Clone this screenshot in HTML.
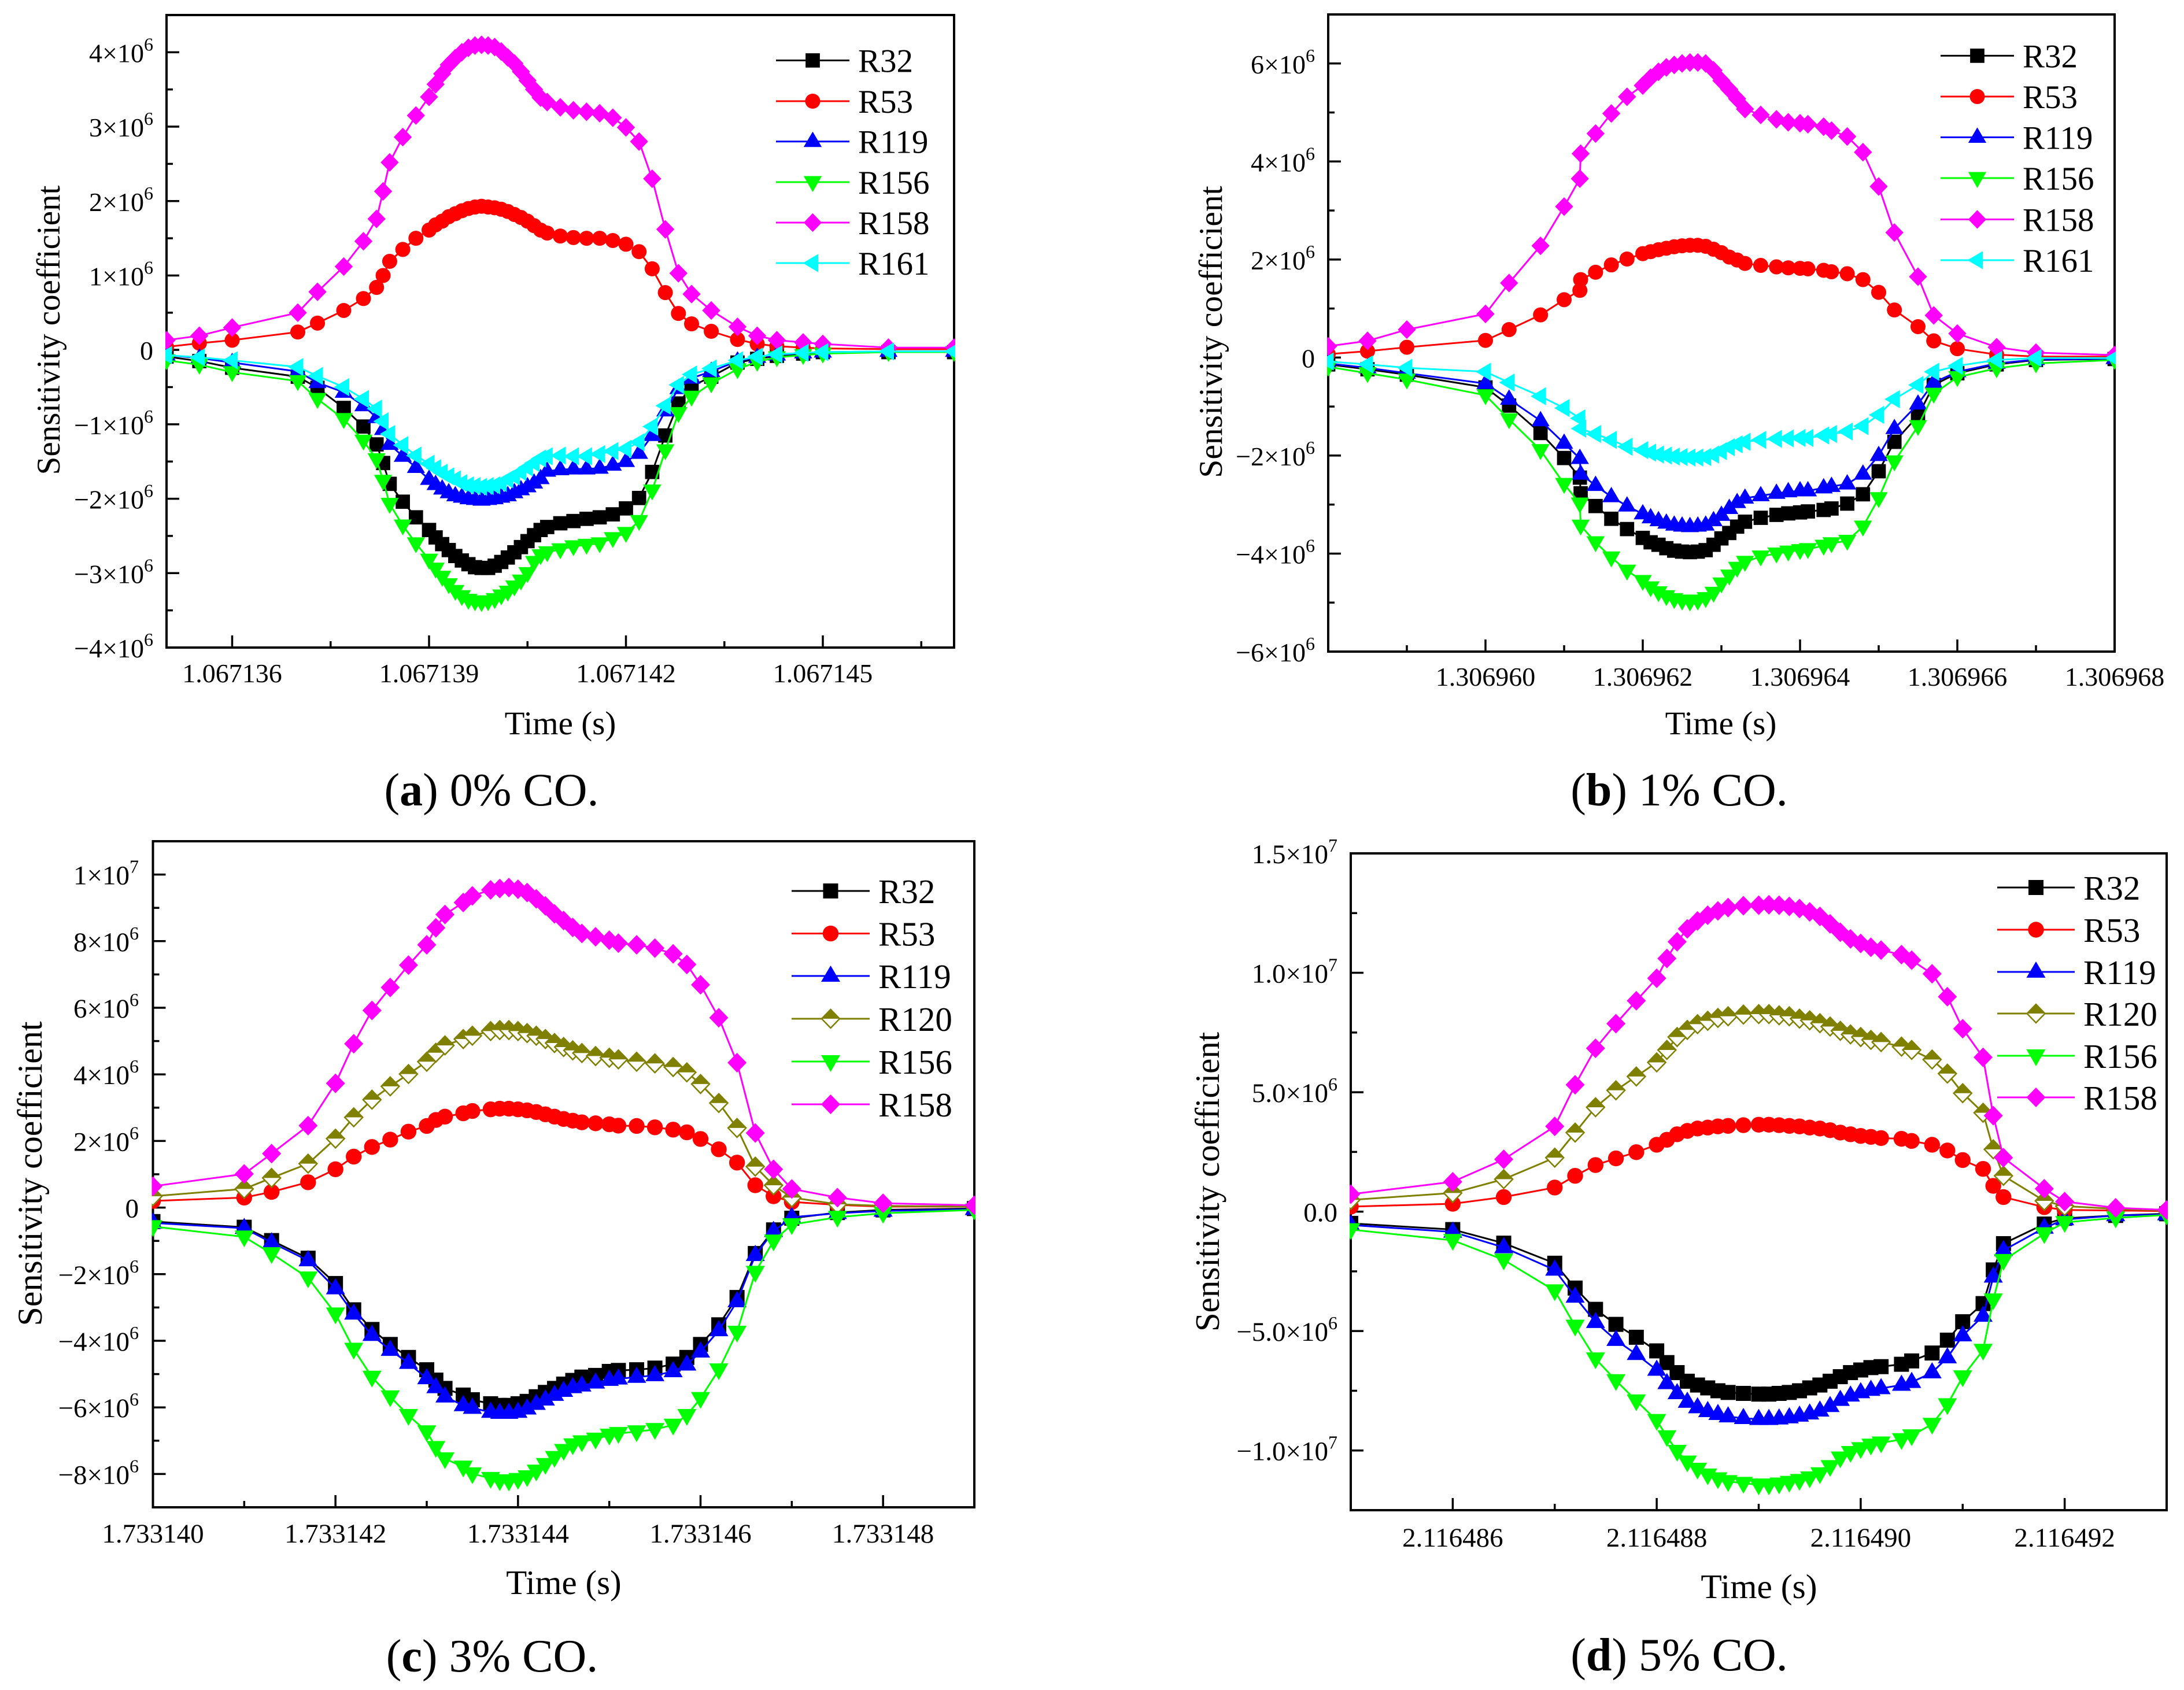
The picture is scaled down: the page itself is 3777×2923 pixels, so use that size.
<!DOCTYPE html>
<html>
<head>
<meta charset="utf-8">
<title>Sensitivity coefficients at 0%, 1%, 3% and 5% CO</title>
<style>
html,body{margin:0;padding:0;background:#fff;}
svg{display:block;}
text{font-family:"Liberation Serif","Times New Roman",serif;fill:#000;}
</style>
</head>
<body>
<svg id="figure" xmlns="http://www.w3.org/2000/svg" width="3777" height="2923" viewBox="0 0 3777 2923">
  <rect x="0" y="0" width="3777" height="2923" fill="#fff"/>

  <text x="969" y="1270" font-size="57" text-anchor="middle">Time (s)</text>
  <text x="2976" y="1270" font-size="57" text-anchor="middle">Time (s)</text>
  <text x="975" y="2757" font-size="59" text-anchor="middle">Time (s)</text>
  <text x="3042" y="2764" font-size="59.5" text-anchor="middle">Time (s)</text>

  <text transform="translate(103 571) rotate(-90)" font-size="57" text-anchor="middle">Sensitivity coefficient</text>
  <text transform="translate(2113 574) rotate(-90)" font-size="57.5" text-anchor="middle">Sensitivity coefficient</text>
  <text transform="translate(72 2030) rotate(-90)" font-size="60" text-anchor="middle">Sensitivity coefficient</text>
  <text transform="translate(2108 2044) rotate(-90)" font-size="59" text-anchor="middle">Sensitivity coefficient</text>

  <text x="850" y="1393" font-size="80" text-anchor="middle">(<tspan font-weight="bold">a</tspan>) 0% CO.</text>
  <text x="2904" y="1393" font-size="80" text-anchor="middle">(<tspan font-weight="bold">b</tspan>) 1% CO.</text>
  <text x="851" y="2891" font-size="80" text-anchor="middle">(<tspan font-weight="bold">c</tspan>) 3% CO.</text>
  <text x="2904" y="2889" font-size="80" text-anchor="middle">(<tspan font-weight="bold">d</tspan>) 5% CO.</text>
</svg>

<script>
// ---------- Panel A (0% CO) — time = 1.06713 + t*1e-6 s, values in 1e6 ----------
const timesA = [5,5.5,6,7,7.3,7.7,8,8.2,8.3,8.4,8.6,8.8,9,9.1,9.2,9.3,9.4,9.5,9.6,9.7,9.8,9.9,10,10.1,10.2,10.3,10.4,10.5,10.6,10.7,10.8,11,11.2,11.4,11.6,11.8,12,12.2,12.4,12.6,12.8,13,13.3,13.7,14,14.3,14.7,15,16,17];
const r32A = [-.09,-.15,-.24,-.36,-.51,-.78,-1.03,-1.27,-1.52,-1.80,-2.04,-2.25,-2.42,-2.52,-2.61,-2.69,-2.77,-2.83,-2.88,-2.92,-2.93,-2.93,-2.90,-2.85,-2.79,-2.72,-2.65,-2.57,-2.49,-2.42,-2.38,-2.33,-2.30,-2.27,-2.25,-2.21,-2.13,-1.99,-1.64,-1.15,-.72,-.49,-.36,-.17,-.12,-.08,-.05,-.03,-.03,-.03];
const r53A = [.04,.09,.13,.24,.36,.53,.69,.84,1.0,1.19,1.35,1.50,1.61,1.68,1.73,1.79,1.83,1.87,1.90,1.92,1.93,1.92,1.91,1.89,1.86,1.82,1.78,1.73,1.67,1.61,1.57,1.53,1.51,1.50,1.50,1.47,1.42,1.32,1.09,.77,.49,.35,.25,.14,.08,.05,.03,.02,.01,.01];
const r119A = [-.07,-.11,-.17,-.29,-.44,-.57,-.75,-.91,-1.07,-1.27,-1.43,-1.58,-1.74,-1.81,-1.87,-1.92,-1.96,-1.98,-2.0,-2.01,-2.02,-2.01,-2.0,-1.98,-1.96,-1.92,-1.88,-1.84,-1.79,-1.73,-1.63,-1.61,-1.6,-1.6,-1.59,-1.55,-1.5,-1.39,-1.15,-.82,-.52,-.38,-.29,-.15,-.1,-.07,-.04,-.03,-.02,-.02];
const r156A = [-.14,-.2,-.3,-.42,-.66,-.93,-1.22,-1.47,-1.76,-2.07,-2.36,-2.6,-2.82,-2.94,-3.05,-3.15,-3.24,-3.31,-3.36,-3.38,-3.39,-3.38,-3.35,-3.30,-3.25,-3.18,-3.10,-3.0,-2.85,-2.76,-2.72,-2.68,-2.64,-2.62,-2.6,-2.53,-2.46,-2.30,-1.89,-1.35,-.85,-.63,-.45,-.26,-.16,-.1,-.07,-.05,-.03,-.03];
const r158A = [.13,.19,.30,.50,.78,1.12,1.46,1.76,2.13,2.52,2.86,3.15,3.40,3.57,3.71,3.83,3.92,4.00,4.06,4.09,4.10,4.09,4.07,4.01,3.93,3.85,3.74,3.62,3.50,3.39,3.33,3.26,3.22,3.20,3.18,3.12,2.99,2.80,2.30,1.62,1.03,.75,.53,.31,.19,.13,.10,.08,.03,.03];
const r161A = [-.07,-.1,-.14,-.23,-.35,-.5,-.66,-.79,-.96,-1.13,-1.28,-1.42,-1.53,-1.59,-1.65,-1.70,-1.74,-1.79,-1.82,-1.83,-1.84,-1.83,-1.82,-1.79,-1.74,-1.70,-1.64,-1.58,-1.52,-1.46,-1.43,-1.42,-1.43,-1.43,-1.40,-1.36,-1.33,-1.24,-1.03,-.75,-.47,-.33,-.25,-.14,-.09,-.06,-.04,-.03,-.02,-.02];
const xTicksA = [6,9,12,15];
const xTickLabelsA = ["1.067136","1.067139","1.067142","1.067145"];
const xMinorA = [7.5,10.5,13.5,16.5];
const yTicksA = [-4,-3,-2,-1,0,1,2,3,4];
const yTickLabelsA = ["−4×10^6","−3×10^6","−2×10^6","−1×10^6","0","1×10^6","2×10^6","3×10^6","4×10^6"];
const yMinorA = [-3.5,-2.5,-1.5,-.5,.5,1.5,2.5,3.5];

// ---------- Panel B (1% CO) — time = 1.3069 + t*1e-6 s, values in 1e6 ----------
const timesB = [58,58.5,59,60,60.3,60.7,61,61.2,61.21,61.4,61.6,61.8,62,62.1,62.2,62.3,62.4,62.5,62.6,62.7,62.8,62.9,63,63.1,63.2,63.3,63.5,63.7,63.85,64,64.1,64.3,64.4,64.6,64.8,65,65.2,65.5,65.7,66,66.5,67,68];
const r32B = [-.14,-.24,-.35,-.61,-.98,-1.54,-2.05,-2.45,-2.77,-3.03,-3.29,-3.5,-3.68,-3.77,-3.82,-3.89,-3.94,-3.96,-3.97,-3.96,-3.93,-3.82,-3.69,-3.58,-3.45,-3.35,-3.27,-3.21,-3.18,-3.16,-3.14,-3.11,-3.08,-2.98,-2.79,-2.32,-1.72,-1.19,-.56,-.32,-.14,-.05,-.03];
const r53B = [.07,.13,.21,.35,.57,.87,1.18,1.37,1.59,1.74,1.89,2.01,2.12,2.16,2.2,2.23,2.26,2.28,2.29,2.29,2.27,2.21,2.14,2.05,1.99,1.92,1.88,1.85,1.83,1.82,1.81,1.78,1.75,1.71,1.59,1.33,.97,.63,.34,.18,.06,.02,.02];
const r119B = [-.12,-.21,-.32,-.53,-.85,-1.29,-1.75,-2.06,-2.38,-2.61,-2.84,-3.03,-3.19,-3.27,-3.33,-3.38,-3.42,-3.44,-3.45,-3.44,-3.42,-3.33,-3.22,-3.08,-2.96,-2.87,-2.82,-2.77,-2.74,-2.72,-2.72,-2.66,-2.63,-2.58,-2.38,-2.0,-1.45,-.95,-.51,-.29,-.12,-.04,-.02];
const r156B = [-.19,-.32,-.45,-.77,-1.26,-1.89,-2.58,-2.98,-3.43,-3.77,-4.08,-4.35,-4.56,-4.69,-4.79,-4.87,-4.93,-4.96,-4.98,-4.96,-4.91,-4.8,-4.61,-4.45,-4.29,-4.17,-4.06,-4.0,-3.96,-3.93,-3.91,-3.84,-3.79,-3.74,-3.45,-2.87,-2.12,-1.4,-.74,-.4,-.22,-.12,-.05];
const r158B = [.23,.34,.57,.89,1.52,2.28,3.08,3.65,4.16,4.57,4.98,5.32,5.55,5.71,5.83,5.92,5.97,6.0,6.02,6.02,6.0,5.86,5.65,5.47,5.28,5.07,4.95,4.86,4.8,4.78,4.76,4.71,4.63,4.51,4.19,3.49,2.55,1.65,.86,.49,.21,.1,.05];
const r161B = [-.08,-.14,-.21,-.29,-.51,-.79,-1.03,-1.24,-1.45,-1.56,-1.68,-1.82,-1.89,-1.94,-1.98,-2.0,-2.02,-2.03,-2.04,-2.04,-2.03,-1.98,-1.91,-1.83,-1.77,-1.72,-1.68,-1.66,-1.65,-1.64,-1.64,-1.59,-1.56,-1.51,-1.4,-1.17,-.85,-.56,-.29,-.17,-.05,-.01,-.01];
const xTicksB = [60,62,64,66,68];
const xTickLabelsB = ["1.306960","1.306962","1.306964","1.306966","1.306968"];
const xMinorB = [59,61,63,65,67];
const yTicksB = [-6,-4,-2,0,2,4,6];
const yTickLabelsB = ["−6×10^6","−4×10^6","−2×10^6","0","2×10^6","4×10^6","6×10^6"];
const yMinorB = [-5,-3,-1,1,3,5];

// ---------- Panel C (3% CO) — time = 1.733 + t*1e-6 s, values in 1e6 ----------
const timesC = [140,141,141.3,141.7,142,142.2,142.4,142.6,142.8,143,143.1,143.2,143.4,143.5,143.7,143.8,143.9,144,144.1,144.2,144.3,144.4,144.5,144.6,144.7,144.85,145,145.1,145.3,145.5,145.7,145.85,146,146.2,146.4,146.6,146.8,147,147.5,148,149];
const r32C = [-.42,-.59,-.99,-1.52,-2.28,-3.07,-3.66,-4.11,-4.5,-4.87,-5.18,-5.43,-5.63,-5.77,-5.89,-5.94,-5.94,-5.89,-5.82,-5.68,-5.55,-5.43,-5.3,-5.19,-5.09,-5.04,-4.92,-4.89,-4.87,-4.82,-4.7,-4.5,-4.11,-3.52,-2.7,-1.38,-.67,-.32,-.15,-.07,-.03];
const r53C = [.2,.3,.47,.76,1.15,1.53,1.82,2.04,2.28,2.45,2.63,2.73,2.83,2.9,2.95,2.97,2.97,2.95,2.92,2.87,2.8,2.73,2.66,2.61,2.56,2.53,2.5,2.46,2.45,2.41,2.34,2.26,2.06,1.75,1.35,.67,.34,.17,.08,.03,.03];
const r119C = [-.46,-.62,-1.05,-1.59,-2.43,-3.19,-3.83,-4.28,-4.67,-5.13,-5.4,-5.68,-5.94,-6.02,-6.14,-6.17,-6.17,-6.14,-6.04,-5.9,-5.77,-5.63,-5.51,-5.4,-5.35,-5.26,-5.18,-5.14,-5.09,-5.04,-4.92,-4.72,-4.33,-3.69,-2.82,-1.43,-.71,-.29,-.17,-.1,-.05];
const r120C = [.34,.56,.89,1.32,2.07,2.71,3.24,3.64,4.01,4.38,4.65,4.87,5.06,5.16,5.3,5.33,5.33,5.3,5.24,5.16,5.06,4.94,4.82,4.72,4.64,4.55,4.5,4.45,4.38,4.33,4.22,4.06,3.71,3.14,2.39,1.23,.67,.3,.1,.05,.03];
const r156C = [-.57,-.88,-1.38,-2.11,-3.19,-4.25,-5.09,-5.68,-6.24,-6.73,-7.2,-7.54,-7.79,-7.99,-8.13,-8.2,-8.21,-8.16,-8.08,-7.91,-7.71,-7.5,-7.29,-7.12,-7.03,-6.95,-6.83,-6.78,-6.73,-6.66,-6.53,-6.24,-5.73,-4.87,-3.74,-1.94,-1.0,-.51,-.29,-.17,-.07];
const r158C = [.64,1.01,1.62,2.46,3.73,4.92,5.92,6.61,7.28,7.89,8.4,8.8,9.16,9.36,9.54,9.58,9.61,9.56,9.46,9.27,9.06,8.82,8.62,8.41,8.23,8.13,8.03,7.94,7.89,7.79,7.62,7.3,6.69,5.7,4.35,2.24,1.15,.56,.3,.13,.07];
const xTicksC = [140,142,144,146,148];
const xTickLabelsC = ["1.733140","1.733142","1.733144","1.733146","1.733148"];
const xMinorC = [141,143,145,147,149];
const yTicksC = [-8,-6,-4,-2,0,2,4,6,8,10];
const yTickLabelsC = ["−8×10^6","−6×10^6","−4×10^6","−2×10^6","0","2×10^6","4×10^6","6×10^6","8×10^6","1×10^7"];
const yMinorC = [-7,-5,-3,-1,1,3,5,7,9];

// ---------- Panel D (5% CO) — time = 2.116 + t*1e-6 s, values in 1e6 ----------
const timesD = [485,486,486.5,487,487.2,487.4,487.6,487.8,488,488.1,488.2,488.3,488.4,488.5,488.6,488.7,488.85,489,489.1,489.2,489.3,489.4,489.5,489.6,489.7,489.8,489.9,490,490.1,490.2,490.4,490.5,490.7,490.85,491,491.2,491.3,491.4,491.8,492,492.5,493];
const r32D = [-.49,-.75,-1.32,-2.16,-3.2,-4.09,-4.72,-5.26,-5.83,-6.32,-6.74,-7.1,-7.26,-7.38,-7.5,-7.57,-7.61,-7.64,-7.64,-7.61,-7.57,-7.5,-7.38,-7.26,-7.1,-6.91,-6.74,-6.63,-6.53,-6.49,-6.39,-6.25,-5.92,-5.38,-4.61,-3.85,-2.44,-1.34,-.52,-.28,-.16,-.09];
const r53D = [.21,.33,.61,1.01,1.5,1.95,2.23,2.49,2.8,3.01,3.24,3.38,3.48,3.52,3.57,3.59,3.62,3.64,3.64,3.62,3.59,3.57,3.52,3.48,3.41,3.31,3.24,3.17,3.13,3.08,3.05,2.96,2.8,2.56,2.16,1.79,1.08,.61,.19,.07,.05,.02];
const r119D = [-.56,-.85,-1.5,-2.44,-3.57,-4.63,-5.38,-5.97,-6.63,-7.19,-7.61,-7.97,-8.2,-8.36,-8.48,-8.58,-8.65,-8.69,-8.69,-8.67,-8.62,-8.55,-8.46,-8.34,-8.15,-7.89,-7.71,-7.57,-7.47,-7.4,-7.26,-7.14,-6.74,-6.11,-5.19,-4.37,-2.73,-1.62,-.68,-.33,-.16,-.12];
const r120D = [.49,.78,1.36,2.26,3.31,4.37,5.08,5.66,6.25,6.77,7.31,7.61,7.85,7.99,8.11,8.18,8.25,8.27,8.27,8.22,8.18,8.08,8.01,7.89,7.75,7.57,7.42,7.31,7.19,7.1,6.91,6.77,6.37,5.78,4.96,4.14,2.61,1.5,.45,.23,.12,.05];
const r156D = [-.75,-1.2,-2.02,-3.31,-4.79,-6.16,-7.07,-7.92,-8.74,-9.42,-10.03,-10.48,-10.78,-11.02,-11.18,-11.3,-11.37,-11.44,-11.44,-11.4,-11.33,-11.25,-11.14,-10.97,-10.67,-10.31,-10.08,-9.92,-9.77,-9.68,-9.54,-9.38,-8.9,-8.08,-6.91,-5.8,-3.69,-2.04,-.92,-.45,-.26,-.14];
const r158D = [.73,1.25,2.19,3.57,5.31,6.84,7.87,8.83,9.77,10.6,11.3,11.84,12.17,12.41,12.59,12.73,12.81,12.83,12.85,12.83,12.78,12.69,12.55,12.36,12.05,11.7,11.42,11.23,11.07,10.95,10.76,10.53,9.96,9,7.66,6.46,4.02,2.26,.96,.42,.16,.07];
const xTicksD = [486,488,490,492];
const xTickLabelsD = ["2.116486","2.116488","2.116490","2.116492"];
const xMinorD = [487,489,491,493];
const yTicksD = [-10,-5,0,5,10,15];
const yTickLabelsD = ["−1.0×10^7","−5.0×10^6","0.0","5.0×10^6","1.0×10^7","1.5×10^7"];
const yMinorD = [-12.5,-7.5,-2.5,2.5,7.5,12.5];

// ---------- Series styling ----------
const STYLE = {
  R32:{color:'#000000',marker:'square'},
  R53:{color:'#ff0000',marker:'circle'},
  R119:{color:'#0000ff',marker:'up'},
  R120:{color:'#808000',marker:'half'},
  R156:{color:'#00ff00',marker:'down'},
  R158:{color:'#ff00ff',marker:'diamond'},
  R161:{color:'#00ffff',marker:'left'}
};

const panels = [
  {id:'a',box:{l:288,r:1650,t:26,b:1120},xDomain:[5,17],yDomain:[-4,4.5],times:timesA,markerScale:.95,tickFont:46,legendFont:57,legendDy:20,
   xTicks:xTicksA,xLabels:xTickLabelsA,xMinor:xMinorA,yTicks:yTicksA,yLabels:yTickLabelsA,yMinor:yMinorA,
   xLabelY:1180,yLabelX:265,
   series:[['R32',r32A],['R53',r53A],['R119',r119A],['R156',r156A],['R158',r158A],['R161',r161A]],
   legend:{x1:1342,x2:1469,textX:1484,ys:[104.5,175,244.7,315,385,455]}},
  {id:'b',box:{l:2297,r:3657,t:25,b:1127},xDomain:[58,68],yDomain:[-6,7],times:timesB,markerScale:.95,tickFont:46,legendFont:57,legendDy:20,
   xTicks:xTicksB,xLabels:xTickLabelsB,xMinor:xMinorB,yTicks:yTicksB,yLabels:yTickLabelsB,yMinor:yMinorB,
   xLabelY:1186,yLabelX:2274,
   series:[['R32',r32B],['R53',r53B],['R119',r119B],['R156',r156B],['R158',r158B],['R161',r161B]],
   legend:{x1:3356,x2:3483,textX:3498,ys:[96.4,167,237.5,308,379.5,450]}},
  {id:'c',box:{l:264.5,r:1685,t:1455,b:2607},xDomain:[140,149],yDomain:[-9,11],times:timesC,markerScale:1,tickFont:47,legendFont:59,legendDy:21,
   xTicks:xTicksC,xLabels:xTickLabelsC,xMinor:xMinorC,yTicks:yTicksC,yLabels:yTickLabelsC,yMinor:yMinorC,
   xLabelY:2668,yLabelX:240,
   series:[['R32',r32C],['R53',r53C],['R119',r119C],['R120',r120C],['R156',r156C],['R158',r158C]],
   legend:{x1:1369,x2:1504,textX:1519,ys:[1541,1614.6,1688,1762,1836,1910]}},
  {id:'d',box:{l:2336,r:3747,t:1476,b:2612},xDomain:[485,493],yDomain:[-12.5,15],times:timesD,markerScale:1,tickFont:47,legendFont:59,legendDy:21,
   xTicks:xTicksD,xLabels:xTickLabelsD,xMinor:xMinorD,yTicks:yTicksD,yLabels:yTickLabelsD,yMinor:yMinorD,
   xLabelY:2675,yLabelX:2313,
   series:[['R32',r32D],['R53',r53D],['R119',r119D],['R120',r120D],['R156',r156D],['R158',r158D]],
   legend:{x1:3454,x2:3588,textX:3603,ys:[1535,1608,1681,1753,1826,1898]}}
];

const NS = 'http://www.w3.org/2000/svg';
const svg = document.getElementById('figure');

function make(tag, attrs, parent){
  const n = document.createElementNS(NS, tag);
  for (const k in attrs) n.setAttribute(k, attrs[k]);
  parent.appendChild(n);
  return n;
}

function drawMarker(parent, kind, cx, cy, color, s){
  const g = make('g', {transform:'translate(' + cx + ' ' + cy + ') scale(' + s + ')'}, parent);
  if (kind === 'square') make('rect', {x:-13,y:-13,width:26,height:26,fill:color}, g);
  if (kind === 'circle') make('circle', {cx:0,cy:0,r:13.7,fill:color}, g);
  if (kind === 'up') make('polygon', {points:'0,-18 16.5,10 -16.5,10',fill:color}, g);
  if (kind === 'down') make('polygon', {points:'0,18 16.5,-11 -16.5,-11',fill:color}, g);
  if (kind === 'left') make('polygon', {points:'-18,0 10,-16.5 10,16.5',fill:color}, g);
  if (kind === 'diamond') make('polygon', {points:'0,-17 16.5,0 0,17 -16.5,0',fill:color}, g);
  if (kind === 'half') {
    make('polygon', {points:'0,-16 15.5,0 0,16 -15.5,0',fill:'#fff',stroke:color,'stroke-width':2.5}, g);
    make('polygon', {points:'0,-17 16.5,0 -16.5,0',fill:color}, g);
  }
  return g;
}

function drawPanel(p){
  const root = make('g', {}, svg);
  
  

  const b = p.box;
  const xScale = v => b.l + (v - p.xDomain[0]) / (p.xDomain[1] - p.xDomain[0]) * (b.r - b.l);
  const yScale = v => b.b - (v - p.yDomain[0]) / (p.yDomain[1] - p.yDomain[0]) * (b.b - b.t);

  const clip = make('clipPath', {id:'clip-' + p.id}, root);
  make('rect', {x:b.l - 2, y:b.t, width:b.r - b.l + 4, height:b.b - b.t}, clip);

  // frame
  const frame = make('rect', {x:b.l, y:b.t, width:b.r - b.l, height:b.b - b.t, fill:'none', stroke:'#000', 'stroke-width':4}, root);
  
  

  // x ticks
  p.xTicks.forEach((v, i) => {
    const x = xScale(v);
    const tick = make('line', {x1:x, x2:x, y1:b.b, y2:b.b - 21, stroke:'#000', 'stroke-width':3.5}, root);
    
    
    const label = make('text', {x:x, y:p.xLabelY, 'font-size':p.tickFont, 'text-anchor':'middle'}, root);
    label.textContent = p.xLabels[i];
    
    
  });
  p.xMinor.forEach(v => {
    const x = xScale(v);
    const tick = make('line', {x1:x, x2:x, y1:b.b, y2:b.b - 11, stroke:'#000', 'stroke-width':3.5}, root);
    
    
  });

  // y ticks
  p.yTicks.forEach((v, i) => {
    const y = yScale(v);
    const tick = make('line', {x1:b.l, x2:b.l + 22, y1:y, y2:y, stroke:'#000', 'stroke-width':3.5}, root);
    
    
    const label = make('text', {x:p.yLabelX, y:y + 17, 'font-size':p.tickFont, 'text-anchor':'end'}, root);
    const parts = p.yLabels[i].split('^');
    label.appendChild(document.createTextNode(parts[0]));
    if (parts[1]) {
      const sup = make('tspan', {dy:-20, 'font-size':32}, label);
      sup.textContent = parts[1];
    }
    
    
  });
  p.yMinor.forEach(v => {
    const y = yScale(v);
    const tick = make('line', {x1:b.l, x2:b.l + 11, y1:y, y2:y, stroke:'#000', 'stroke-width':3.5}, root);
    
    
  });

  // series
  const plot = make('g', {'clip-path':'url(#clip-' + p.id + ')'}, root);
  
  
  p.series.forEach(([name, values]) => {
    const st = STYLE[name];
    const key = name.toLowerCase();
    const g = make('g', {}, plot);
    
    
    const pts = values.map((v, i) => xScale(p.times[i]).toFixed(1) + ',' + yScale(v).toFixed(1)).join(' ');
    const line = make('polyline', {points:pts, fill:'none', stroke:st.color, 'stroke-width':3, 'stroke-linejoin':'round'}, g);
    
    
    values.forEach((v, i) => {
      const m = drawMarker(g, st.marker, xScale(p.times[i]), yScale(v), st.color, p.markerScale);
      
      
    });
  });

  // legend
  const leg = make('g', {}, root);
  
  
  p.series.forEach(([name], i) => {
    const st = STYLE[name];
    const y = p.legend.ys[i];
    const entry = make('g', {}, leg);
    
    
    make('line', {x1:p.legend.x1, x2:p.legend.x2, y1:y, y2:y, stroke:st.color, 'stroke-width':3}, entry);
    drawMarker(entry, st.marker, (p.legend.x1 + p.legend.x2) / 2, y, st.color, p.markerScale);
    const t = make('text', {x:p.legend.textX, y:y + p.legendDy, 'font-size':p.legendFont}, entry);
    t.textContent = name;
  });
}

panels.forEach(drawPanel);
</script>
</body>
</html>
